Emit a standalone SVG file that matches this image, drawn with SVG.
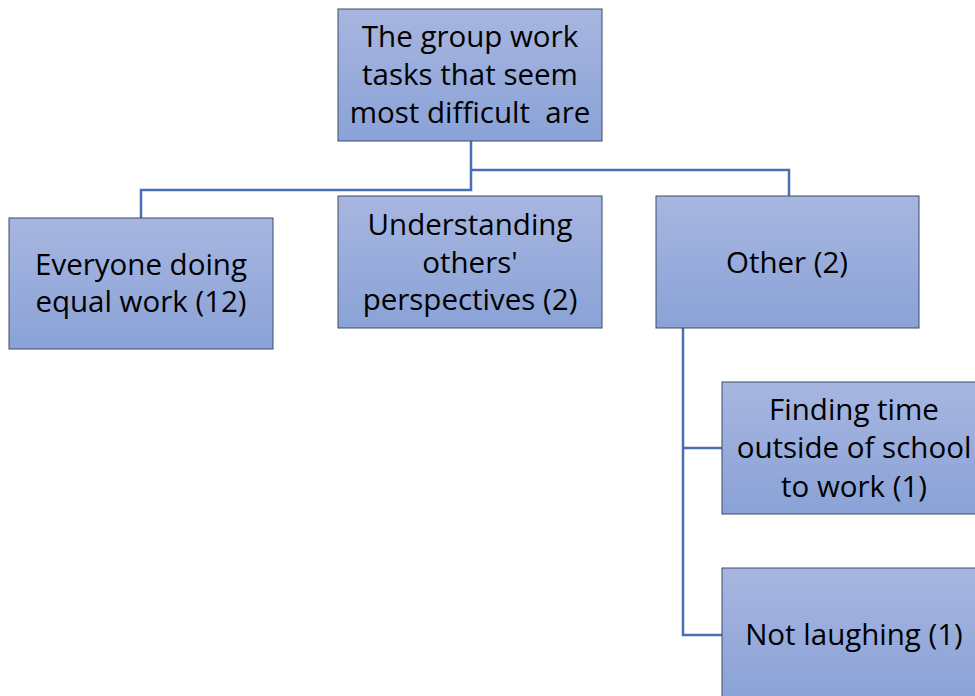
<svg xmlns="http://www.w3.org/2000/svg" width="975" height="696" viewBox="0 0 975 696">
<defs>
<linearGradient id="g" x1="0" y1="0" x2="0" y2="1">
<stop offset="0" stop-color="#a7b6e0"/>
<stop offset="1" stop-color="#8aa2d7"/>
</linearGradient>
</defs>
<style>
.box{fill:url(#g);stroke:#3f4a63;stroke-width:1}
.t{font-family:"Open Sans","Liberation Sans",sans-serif;font-size:29.5px;fill:#000;text-anchor:middle}
.c{fill:none;stroke:#4a6fb5;stroke-width:2.5}
</style>
<rect width="975" height="696" fill="#fff"/>
<g id="connectors">
<polyline class="c" points="471,141 471,190 141,190 141,218"/>
<polyline class="c" points="471,170 789,170 789,196"/>
<polyline class="c" points="683,328 683,635 722,635"/>
<polyline class="c" points="683,448 722,448"/>
</g>
<g id="root">
<rect class="box" x="338" y="9" width="264" height="132"/>
<text class="t" x="470" y="47">The group work</text>
<text class="t" x="470" y="85">tasks that seem</text>
<text class="t" x="470" y="123" xml:space="preserve">most difficult  are</text>
</g>
<g id="equal">
<rect class="box" x="9" y="218" width="264" height="131"/>
<text class="t" x="141" y="275">Everyone doing</text>
<text class="t" x="141" y="312">equal work (12)</text>
</g>
<g id="understanding">
<rect class="box" x="338" y="196" width="264" height="132"/>
<text class="t" x="470" y="235">Understanding</text>
<text class="t" x="470" y="273">others'</text>
<text class="t" x="470" y="310">perspectives (2)</text>
</g>
<g id="other">
<rect class="box" x="656" y="196" width="263" height="132"/>
<text class="t" x="787" y="273">Other (2)</text>
</g>
<g id="finding">
<rect class="box" x="722" y="382" width="264" height="132"/>
<text class="t" x="854" y="420">Finding time</text>
<text class="t" x="854" y="458">outside of school</text>
<text class="t" x="854" y="497">to work (1)</text>
</g>
<g id="laughing">
<rect class="box" x="722" y="568" width="264" height="132"/>
<text class="t" x="854" y="645">Not laughing (1)</text>
</g>
</svg>
